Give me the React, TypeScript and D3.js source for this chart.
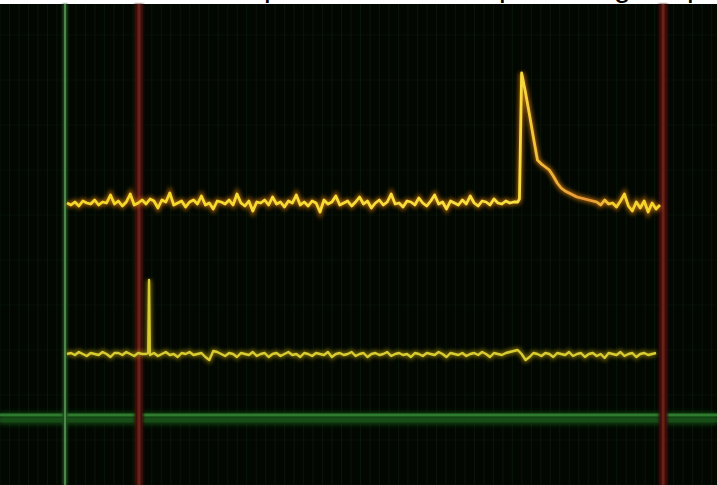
import * as d3 from "d3";

// upper channel, deviation from its offset (1 unit = 10px)
const ch1Values = [
  0.0, -0.2, 0.1, -0.3, 0.2, 0.0, -0.1, 0.3, -0.2, 0.1,
  0.0, 0.8, -0.1, 0.2, -0.3, 0.1, 0.9, -0.2, 0.0, 0.3,
  -0.1, 0.4, 0.2, -0.5, 0.3, 0.1, 1.0, -0.2, 0.0, 0.2,
  -0.4, 0.1, 0.3, -0.1, 0.7, -0.2, 0.0, -0.6, 0.2, 0.1,
  -0.1, 0.3, -0.2, 0.9, 0.0, -0.3, 0.2, -0.8, 0.1, 0.0,
  0.3, -0.2, 0.6, -0.1, 0.1, -0.4, 0.2, 0.0, 0.8, -0.2,
  0.1, -0.3, 0.2, 0.0, -0.9, 0.3, -0.1, 0.1, 0.7, -0.2,
  0.0, 0.2, -0.3, 0.1, 0.6, -0.1, 0.2, -0.5, 0.0, 0.3,
  -0.2, 0.1, 0.9, -0.1, 0.0, -0.4, 0.2, 0.1, -0.2, 0.5,
  0.0, -0.3, 0.2, 0.8, -0.1, 0.1, -0.6, 0.2, 0.0, -0.2,
  0.3, -0.1, 0.7, 0.0, -0.3, 0.2, 0.1, -0.2, 0.4, 0.0,
  -0.1, 0.2, 0.0, 0.1, 0.1, 13.0, 11.0, 8.8, 6.5, 4.3,
  3.9, 3.6, 3.3, 2.7, 2.0, 1.5, 1.2, 1.0, 0.8, 0.6,
  0.5, 0.4, 0.3, 0.2, 0.1, -0.2, 0.3, -0.1, 0.0, -0.4,
  0.2, 0.9, -0.3, -0.8, 0.1, -0.5, 0.2, -0.9, 0.0, -0.6,
  -0.2,
];
const ch1Extra: [number, number][] = [[114.45, 0.4]];
const ch1Offset = 21.3;

// lower channel
const ch2Values = [
  0.0, 0.1, -0.1, 0.2, 0.0, -0.2, 0.1, 0.0, -0.1, 0.2,
  0.0, -0.3, 0.1, 0.1, -0.1, 0.2, 0.0, -0.2, 0.1, 0.0,
  0.0, -0.1, 0.1, -0.2, 0.0, 0.2, -0.1, 0.0, -0.3, 0.1,
  0.0, 0.2, -0.1, 0.0, 0.1, -0.3, -0.6, 0.3, 0.2, 0.0,
  -0.2, 0.1, 0.0, -0.3, 0.1, 0.0, -0.1, 0.2, -0.2, 0.0,
  0.1, -0.3, 0.0, 0.1, -0.2, 0.0, 0.2, -0.1, 0.0, -0.3,
  0.1, 0.0, -0.2, 0.1, 0.0, -0.1, 0.2, -0.3, 0.0, 0.1,
  -0.1, 0.0, 0.2, -0.2, 0.0, 0.1, -0.3, 0.0, 0.1, -0.1,
  0.0, 0.2, -0.2, 0.0, 0.1, -0.1, 0.0, -0.3, 0.1, 0.0,
  -0.2, 0.1, 0.0, -0.1, 0.2, 0.0, -0.3, 0.1, 0.0, -0.1,
  0.1, -0.2, 0.0, 0.1, -0.1, 0.2, 0.0, -0.3, 0.1, 0.0,
  -0.1, 0.1, 0.2, 0.3, 0.4, 0.0, -0.6, -0.3, 0.1, 0.0,
  -0.2, 0.1, 0.0, -0.3, 0.1, 0.0, -0.1, 0.2, -0.2, 0.0,
  0.1, -0.3, 0.0, 0.1, -0.2, 0.0, -0.4, 0.1, 0.0, -0.1,
  0.2, -0.2, 0.0, 0.1, -0.3, 0.0, 0.1, -0.1, 0.0, 0.1,
];
const ch2Extra: [number, number][] = [[20.55, 0.1], [20.75, 7.4], [20.95, 0.0]];
const ch2Offset = 6.2;

const triggerTime = -0.5;
const cursorTimes = [18.2, 150.8];
const groundLevel = 0;
const captionGlyphs = ["p", "p", "g", "p"];

interface Pt {
  t: number;
  v: number;
}

function buildSeries(values: number[], extra: [number, number][], offset: number): Pt[] {
  const pts = values.map((v, i) => ({ t: i, v: v + offset }));
  extra.forEach(([t, v]) => pts.push({ t, v: v + offset }));
  return pts.sort((a, b) => a.t - b.t);
}

export default function App() {
  const width = 717;
  const height = 485;
  const top = 4;

  const x = d3.scaleLinear().domain([0, 150]).range([67, 660]);
  const y = d3.scaleLinear().domain([0, 41.2]).range([416, top]);

  const line = d3
    .line<Pt>()
    .x((d) => x(d.t))
    .y((d) => y(d.v));

  const ch1 = buildSeries(ch1Values, ch1Extra, ch1Offset);
  const ch2 = buildSeries(ch2Values, ch2Extra, ch2Offset);

  const gridX = d3.range(x.invert(0), x.invert(width), 2.4);
  const gridY = d3.range(y.invert(height), y.invert(top), 4.5);

  const glyphX = [264, 499, 614, 687];

  // filters in user space so that zero-width lines still get blurred
  const fr = { filterUnits: "userSpaceOnUse", x: 0, y: 0, width, height } as const;

  return (
    <svg
      width={width}
      height={height}
      style={{ position: "absolute", left: 0, top: 0, display: "block" }}
    >
      <defs>
        <filter id="blur2" {...fr}>
          <feGaussianBlur stdDeviation={2} />
        </filter>
        <filter id="blur1" {...fr}>
          <feGaussianBlur stdDeviation={1.2} />
        </filter>
        <filter id="soft" {...fr}>
          <feGaussianBlur stdDeviation={0.6} />
        </filter>
        <linearGradient id="ch1Core" gradientUnits="userSpaceOnUse" x1={x(0)} x2={x(150)} y1={0} y2={0}>
          <stop offset="0%" stopColor="#f2d82a" />
          <stop offset="76%" stopColor="#f6e040" />
          <stop offset="80%" stopColor="#f0b838" />
          <stop offset="88%" stopColor="#e89838" />
          <stop offset="92%" stopColor="#f2d030" />
          <stop offset="100%" stopColor="#f2d82a" />
        </linearGradient>
      </defs>

      <rect x={0} y={0} width={width} height={height} fill="#ffffff" />
      <rect x={0} y={top} width={width} height={height - top} fill="#020702" />

      {captionGlyphs.map((g, i) => (
        <text
          key={`cap-${i}`}
          x={glyphX[i]}
          y={-3}
          fontFamily="Liberation Sans, Arial, sans-serif"
          fontSize={30}
          fill="#000"
        >
          {g}
        </text>
      ))}

      {/* faint graticule */}
      <g>
        {gridX.map((t, i) => (
          <line
            key={`gx-${i}`}
            x1={x(t)}
            x2={x(t)}
            y1={top}
            y2={height}
            stroke="#0f200f"
            strokeWidth={1}
            opacity={0.6}
          />
        ))}
        {gridY.map((v, i) => (
          <line
            key={`gy-${i}`}
            x1={0}
            x2={width}
            y1={y(v)}
            y2={y(v)}
            stroke="#0c1a0c"
            strokeWidth={1}
            opacity={0.5}
          />
        ))}
      </g>

      {/* ground reference */}
      <rect x={0} y={y(groundLevel) - 4} width={width} height={13} fill="#0f3a0f" filter="url(#blur2)" />
      <line x1={0} x2={width} y1={y(groundLevel) - 1} y2={y(groundLevel) - 1} stroke="#2f7a2f" strokeWidth={3} filter="url(#soft)" />
      <line x1={0} x2={width} y1={y(groundLevel) + 4} y2={y(groundLevel) + 4} stroke="#1a551a" strokeWidth={5} opacity={0.7} filter="url(#soft)" />

      {/* trigger line */}
      <line x1={x(triggerTime)} x2={x(triggerTime)} y1={top} y2={height} stroke="#1d4a1d" strokeWidth={5} filter="url(#blur1)" />
      <line x1={x(triggerTime)} x2={x(triggerTime)} y1={top} y2={height} stroke="#5a985a" strokeWidth={1.6} />

      {/* cursors */}
      {cursorTimes.map((t, i) => (
        <g key={`cur-${i}`}>
          <line x1={x(t)} x2={x(t)} y1={top} y2={height} stroke="#3a0e08" strokeWidth={9} filter="url(#blur1)" />
          <line x1={x(t)} x2={x(t)} y1={top} y2={height} stroke="#6a2014" strokeWidth={3} filter="url(#soft)" />
        </g>
      ))}

      {/* lower trace */}
      <path d={line(ch2) || undefined} fill="none" stroke="#a89010" strokeWidth={5} opacity={0.7} filter="url(#blur2)" />
      <path d={line(ch2) || undefined} fill="none" stroke="#d8cc30" strokeWidth={2.4} strokeLinejoin="round" filter="url(#soft)" />

      {/* upper trace */}
      <path d={line(ch1) || undefined} fill="none" stroke="#d07810" strokeWidth={5} opacity={0.8} filter="url(#blur2)" />
      <path d={line(ch1) || undefined} fill="none" stroke="url(#ch1Core)" strokeWidth={2.8} strokeLinejoin="round" filter="url(#soft)" />
    </svg>
  );
}
